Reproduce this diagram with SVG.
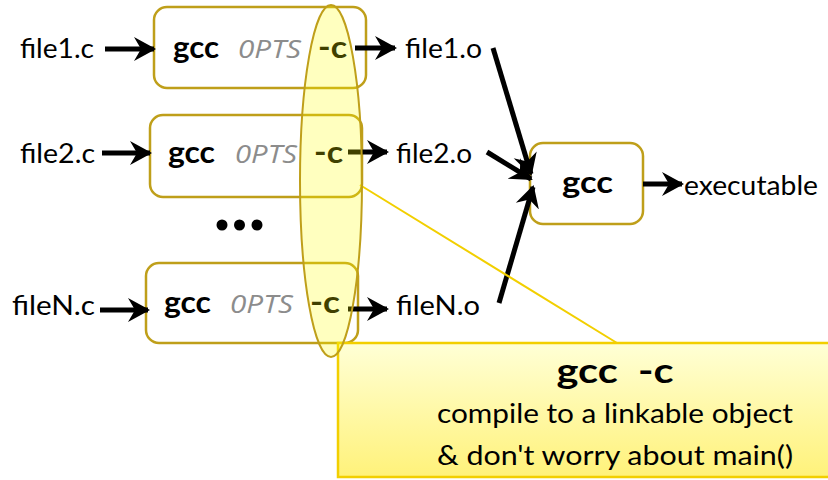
<svg xmlns="http://www.w3.org/2000/svg" width="828" height="480" viewBox="0 0 828 480">
  <defs>
    <marker id="head" viewBox="0 0 22 26" refX="20" refY="13" markerWidth="22" markerHeight="26" markerUnits="userSpaceOnUse" orient="auto">
      <path d="M0,1 L22,13 L0,25 L7,13 Z" fill="#000"/>
    </marker>
    <linearGradient id="noteFill" x1="0" y1="0" x2="0" y2="1">
      <stop offset="0" stop-color="#ffffd6"/>
      <stop offset="1" stop-color="#fff27a"/>
    </linearGradient>
    <style>
      .box { fill: #fff; stroke: #bf9f1a; stroke-width: 2.5; }
      .lbl { font-family: Lato, "Open Sans", sans-serif; font-size: 27px; fill: #000; }
      .cmd { font-family: Lato, "Open Sans", sans-serif; font-size: 31px; font-weight: bold; fill: #000; }
      .opts { font-family: "Open Sans", "DejaVu Sans", sans-serif; font-size: 25px; font-style: italic; fill: #8c8c8c; }
      .wire { stroke: #000; stroke-width: 5; fill: none; marker-end: url(#head); }
      .note { font-family: Lato, "Open Sans", sans-serif; fill: #000; text-anchor: middle; }
    </style>
  </defs>

  <!-- compile step 1 -->
  <g id="cc1">
    <rect class="box" x="154" y="7" width="212" height="81" rx="13"/>
    <text class="cmd" x="173" y="58" textLength="46" lengthAdjust="spacingAndGlyphs">gcc</text>
    <text class="opts" x="238" y="58" textLength="63" lengthAdjust="spacingAndGlyphs">0PTS</text>
    <text class="cmd" x="318" y="58" textLength="29" lengthAdjust="spacingAndGlyphs">-c</text>
  </g>
  <!-- compile step 2 -->
  <g id="cc2">
    <rect class="box" x="150" y="115" width="212" height="82" rx="13"/>
    <text class="cmd" x="168" y="163" textLength="47" lengthAdjust="spacingAndGlyphs">gcc</text>
    <text class="opts" x="235" y="163" textLength="62" lengthAdjust="spacingAndGlyphs">0PTS</text>
    <text class="cmd" x="314" y="163" textLength="29" lengthAdjust="spacingAndGlyphs">-c</text>
  </g>
  <!-- compile step N -->
  <g id="ccN">
    <rect class="box" x="146" y="263" width="212" height="80" rx="13"/>
    <text class="cmd" x="164" y="313" textLength="47" lengthAdjust="spacingAndGlyphs">gcc</text>
    <text class="opts" x="230" y="313" textLength="63" lengthAdjust="spacingAndGlyphs">0PTS</text>
    <text class="cmd" x="310" y="313" textLength="30" lengthAdjust="spacingAndGlyphs">-c</text>
  </g>
  <!-- link step -->
  <g id="link">
    <rect class="box" x="530" y="143" width="113" height="81" rx="13"/>
    <text class="cmd" x="562" y="193" textLength="51" lengthAdjust="spacingAndGlyphs">gcc</text>
  </g>

  <!-- file labels -->
  <g id="src1"><text class="lbl" x="20" y="58" textLength="74" lengthAdjust="spacingAndGlyphs">file1.c</text></g>
  <g id="src2"><text class="lbl" x="20" y="163" textLength="75" lengthAdjust="spacingAndGlyphs">file2.c</text></g>
  <g id="srcN"><text class="lbl" x="12" y="315" textLength="83" lengthAdjust="spacingAndGlyphs">fileN.c</text></g>
  <g id="obj1"><text class="lbl" x="405" y="58" textLength="77" lengthAdjust="spacingAndGlyphs">file1.o</text></g>
  <g id="obj2"><text class="lbl" x="396" y="163" textLength="76" lengthAdjust="spacingAndGlyphs">file2.o</text></g>
  <g id="objN"><text class="lbl" x="396" y="315" textLength="84" lengthAdjust="spacingAndGlyphs">fileN.o</text></g>
  <g id="exe"><text class="lbl" x="684" y="195" textLength="134" lengthAdjust="spacingAndGlyphs">executable</text></g>

  <!-- ellipsis between step 2 and step N -->
  <g id="more" fill="#000">
    <circle cx="222" cy="225" r="5.5"/>
    <circle cx="239.5" cy="225" r="5.5"/>
    <circle cx="257" cy="225" r="5.5"/>
  </g>

  <!-- connectors -->
  <g id="connectors">
    <line class="wire" x1="105" y1="49" x2="154" y2="49"/>
    <line class="wire" x1="355" y1="48" x2="395" y2="48"/>
    <line class="wire" x1="102" y1="153" x2="150" y2="153"/>
    <line class="wire" x1="348" y1="152" x2="387" y2="152"/>
    <line class="wire" x1="100" y1="310" x2="148" y2="310"/>
    <line class="wire" x1="348" y1="309" x2="387" y2="309"/>
    <line class="wire" x1="493" y1="48" x2="531" y2="174"/>
    <line class="wire" x1="487" y1="152" x2="531" y2="179"/>
    <line class="wire" x1="499" y1="303" x2="533" y2="187"/>
    <line class="wire" x1="643" y1="184" x2="682" y2="184"/>
  </g>

  <!-- note about the -c flag -->
  <g id="note">
    <line x1="360" y1="185" x2="617" y2="343" stroke="#f2cf00" stroke-width="2"/>
    <rect x="338" y="343" width="500" height="134" fill="url(#noteFill)" stroke="#f2cf00" stroke-width="2.5"/>
    <text class="note" x="615" y="383" font-size="34" font-weight="bold" textLength="117" lengthAdjust="spacingAndGlyphs" xml:space="preserve">gcc  -c</text>
    <text class="note" x="615" y="423" font-size="26" textLength="356" lengthAdjust="spacingAndGlyphs">compile to a linkable object</text>
    <text class="note" x="615" y="465" font-size="26" textLength="356" lengthAdjust="spacingAndGlyphs">&amp; don't worry about main()</text>
  </g>

  <!-- highlight over the -c flags -->
  <g id="highlight">
    <ellipse cx="331" cy="181" rx="31" ry="176" fill="#ffff00" fill-opacity="0.25" stroke="#bf9f1a" stroke-width="2"/>
  </g>
</svg>
